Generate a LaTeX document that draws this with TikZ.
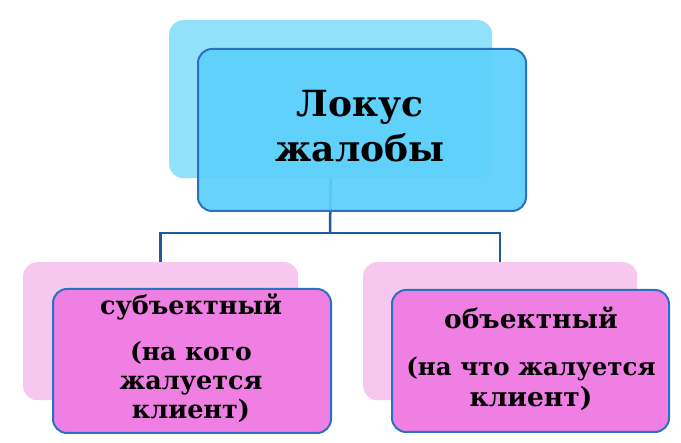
\documentclass[tikz,border=0pt]{standalone}
\usepackage{fontspec}
\setmainfont{DejaVu Serif}
\definecolor{backblue}{HTML}{92E1FB}
\definecolor{frontblue}{HTML}{5CD0FC}
\definecolor{edgeblue}{HTML}{2B72BE}
\definecolor{linkblue}{HTML}{1F5A9B}
\definecolor{backpink}{HTML}{F6C8EF}
\definecolor{frontpink}{HTML}{F07FE3}
\begin{document}
\begin{tikzpicture}[x=1pt,y=-1pt,
  backbox/.style={rounded corners=14pt, inner sep=0pt, anchor=north west},
  frontbox/.style={rounded corners=14pt, draw=edgeblue, line width=2pt, inner sep=0pt, anchor=north west},
  label/.style={inner sep=0pt, align=center, anchor=base, font=\bfseries},
  link/.style={draw=linkblue, line width=2.5pt}]
\useasboundingbox (0,0) rectangle (681,443);
\fill[white] (0,0) rectangle (681,443);
% top
\node[backbox, fill=backblue, minimum width=323pt, minimum height=158pt] (topback) at (169,20) {};
\coordinate (bus) at (330,233);
\draw[link] (topback.south) -- (bus);
\node[frontbox, fill=frontblue, fill opacity=0.93, minimum width=328pt, minimum height=162pt] (top) at (197,48) {};
% bottom boxes
\node[backbox, fill=backpink, minimum width=275pt, minimum height=138pt] (lback) at (23,262) {};
\node[frontbox, fill=frontpink, minimum width=278pt, minimum height=144pt] (left) at (52,288) {};
\node[backbox, fill=backpink, minimum width=274pt, minimum height=138pt] (rback) at (363,262) {};
\node[frontbox, fill=frontpink, minimum width=277pt, minimum height=142pt] (right) at (391,289) {};
% connectors
\draw[link] (top.south -| bus) -- (bus);
\draw[link] (lback.north) -- (lback.north |- bus) -- (rback.north |- bus) -- (rback.north);
% texts
\node[label, font=\bfseries\fontsize{36}{45}\selectfont] (toptext) at (360,162) {Локус\\жалобы};
\node[label, font=\bfseries\fontsize{25.5}{29}\selectfont] (lefttext) at (191,419)
  {субъектный\\[17pt]\fontsize{25}{29}\selectfont(на кого\\жалуется\\клиент)};
\node[label, font=\bfseries\fontsize{26.5}{31}\selectfont] (righttext) at (531,407)
  {объектный\\[16pt]\fontsize{24.5}{33}\selectfont(на что жалуется\\клиент)};
\end{tikzpicture}
\end{document}
